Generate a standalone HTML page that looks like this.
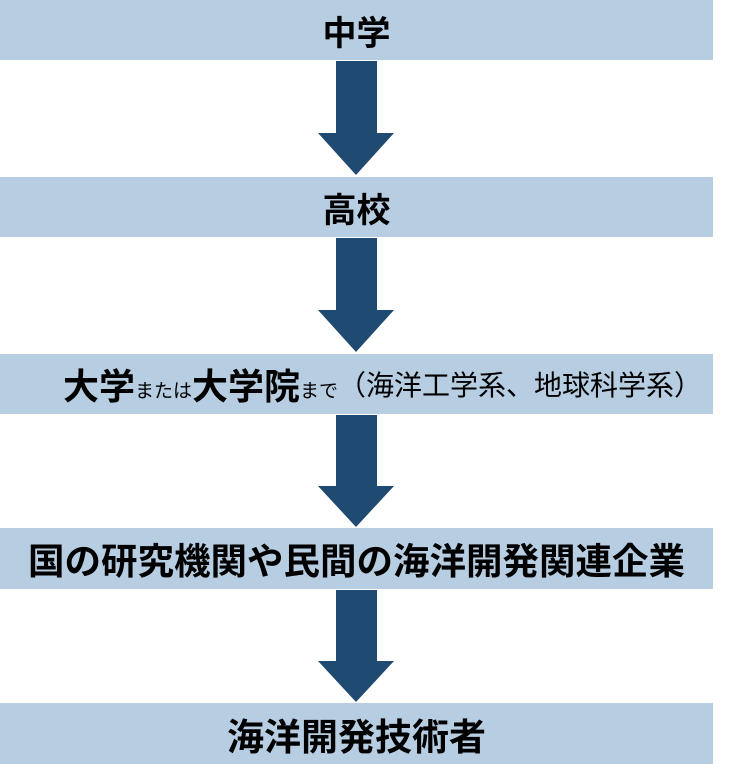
<!DOCTYPE html>
<html><head><meta charset="utf-8"><style>
html,body{margin:0;padding:0;background:#fff;}
body{width:736px;height:764px;position:relative;overflow:hidden;font-family:"Liberation Sans","Noto Sans CJK JP",sans-serif;color:#000;}
.bar{position:absolute;left:0;width:713px;background:#b7cde1;display:flex;align-items:center;justify-content:center;font-weight:bold;white-space:nowrap;box-sizing:border-box;}
svg{position:absolute;left:0;top:0;}
</style></head><body>
<div class="bar" style="top:0;height:60px;font-size:34px;">中学</div>
<div class="bar" style="top:177px;height:60px;font-size:34px;">高校</div>
<div class="bar" style="top:354px;height:60px;padding-left:52px;"><span style="font-size:36px">大学</span><span style="font-size:19px;font-weight:normal;margin-top:10px">または</span><span style="font-size:36px">大学院</span><span style="font-size:19px;font-weight:normal;margin-top:10px">まで</span><span style="font-size:28px;font-weight:normal;">（海洋工学系、地球科学系）</span></div>
<div class="bar" style="top:528px;height:61px;font-size:36.5px;">国の研究機関や民間の海洋開発関連企業</div>
<div class="bar" style="top:703px;height:61px;font-size:37px;">海洋開発技術者</div>
<svg width="736" height="764">
<g fill="#1f4a72">
<polygon points="336,61 377,61 377,133 394,133 356,175 318,133 336,133"/>
<polygon points="336,238 377,238 377,310 394,310 356,352 318,310 336,310"/>
<polygon points="336,415 377,415 377,486 394,486 356,527 318,486 336,486"/>
<polygon points="336,590 377,590 377,661 394,661 356,702 318,661 336,661"/>
</g>
</svg>
</body></html>
